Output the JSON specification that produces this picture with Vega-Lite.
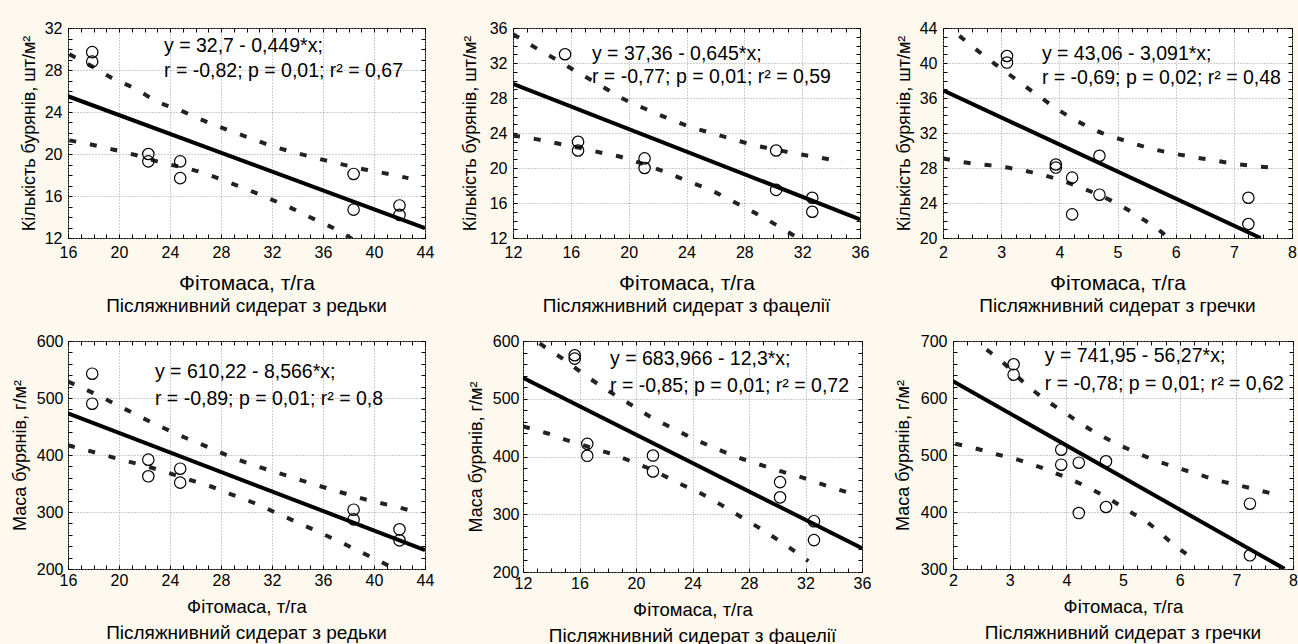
{
"$schema": "https://vega.github.io/schema/vega-lite/v6.json",
"padding": {"left": 10, "top": 19, "right": 0, "bottom": 0},
"background": "#fdf9ee",
"spacing": 15,
"config": {
 "font": "Liberation Sans",
 "view": {"fill": "white", "stroke": "black", "strokeWidth": 1},
 "axis": {"labelFont": "Liberation Sans", "labelFontSize": 16, "labelColor": "black", "titleFont": "Liberation Sans", "titleFontSize": 18, "titleFontWeight": "normal", "titleColor": "black", "domain": false, "gridColor": "#9a9a9a", "gridDash": [1, 2], "gridWidth": 1, "tickColor": "black", "tickSize": -4, "labelFlush": false, "labelOverlap": false, "labelPadding": 10},
 "axisX": {"titleFontSize": 21},
 "title": {"font": "Liberation Sans", "fontSize": 19, "fontWeight": "normal", "color": "black", "orient": "bottom", "offset": 4}
},
"datasets": {
 "p1": [
  {"s": "pt", "x": 17.9, "y": 29.7}, {"s": "pt", "x": 17.9, "y": 28.8}, {"s": "pt", "x": 22.3, "y": 20.0}, {"s": "pt", "x": 22.3, "y": 19.3}, {"s": "pt", "x": 24.8, "y": 19.3}, {"s": "pt", "x": 24.8, "y": 17.7}, {"s": "pt", "x": 38.4, "y": 18.1}, {"s": "pt", "x": 38.4, "y": 14.7}, {"s": "pt", "x": 42.0, "y": 15.1}, {"s": "pt", "x": 42.0, "y": 14.2},
  {"s": "fit", "x": 16, "y": 25.5}, {"s": "fit", "x": 44, "y": 12.94},
  {"s": "up", "x": 16.1, "y": 29.5}, {"s": "up", "x": 17.8, "y": 28.4}, {"s": "up", "x": 19.5, "y": 27.2}, {"s": "up", "x": 21.3, "y": 26.2}, {"s": "up", "x": 23.0, "y": 25.0}, {"s": "up", "x": 24.9, "y": 24.1}, {"s": "up", "x": 26.6, "y": 23.2}, {"s": "up", "x": 28.5, "y": 22.3}, {"s": "up", "x": 30.1, "y": 21.6}, {"s": "up", "x": 31.9, "y": 20.8}, {"s": "up", "x": 33.6, "y": 20.2}, {"s": "up", "x": 35.5, "y": 19.6}, {"s": "up", "x": 37.2, "y": 19.1}, {"s": "up", "x": 39.0, "y": 18.6}, {"s": "up", "x": 40.7, "y": 18.2}, {"s": "up", "x": 42.7, "y": 17.7},
  {"s": "lo", "x": 16.1, "y": 21.3}, {"s": "lo", "x": 17.8, "y": 20.9}, {"s": "lo", "x": 19.6, "y": 20.4}, {"s": "lo", "x": 21.3, "y": 19.9}, {"s": "lo", "x": 23.0, "y": 19.3}, {"s": "lo", "x": 26.6, "y": 18.2}, {"s": "lo", "x": 28.4, "y": 17.4}, {"s": "lo", "x": 30.1, "y": 16.6}, {"s": "lo", "x": 31.9, "y": 15.7}, {"s": "lo", "x": 33.6, "y": 14.8}, {"s": "lo", "x": 35.3, "y": 13.8}, {"s": "lo", "x": 37.2, "y": 12.7}, {"s": "lo", "x": 38.3, "y": 11.9},
  {"s": "eq", "t": ["y = 32,7 - 0,449*x;", "r = -0,82; p = 0,01; r² = 0,67"]}
 ],
 "p2": [
  {"s": "pt", "x": 15.6, "y": 33.0}, {"s": "pt", "x": 16.5, "y": 23.0}, {"s": "pt", "x": 16.5, "y": 22.0}, {"s": "pt", "x": 21.1, "y": 21.1}, {"s": "pt", "x": 21.1, "y": 20.0}, {"s": "pt", "x": 30.2, "y": 22.0}, {"s": "pt", "x": 30.2, "y": 17.5}, {"s": "pt", "x": 32.7, "y": 16.6}, {"s": "pt", "x": 32.7, "y": 15.0},
  {"s": "fit", "x": 12, "y": 29.62}, {"s": "fit", "x": 36, "y": 14.14},
  {"s": "up", "x": 12.0, "y": 35.3}, {"s": "up", "x": 13.6, "y": 33.7}, {"s": "up", "x": 15.1, "y": 32.3}, {"s": "up", "x": 16.6, "y": 30.8}, {"s": "up", "x": 18.1, "y": 29.4}, {"s": "up", "x": 19.5, "y": 28.0}, {"s": "up", "x": 21.1, "y": 26.8}, {"s": "up", "x": 22.6, "y": 25.75}, {"s": "up", "x": 24.1, "y": 24.8}, {"s": "up", "x": 25.7, "y": 24.0}, {"s": "up", "x": 27.2, "y": 23.3}, {"s": "up", "x": 28.7, "y": 22.6}, {"s": "up", "x": 30.2, "y": 22.1}, {"s": "up", "x": 31.7, "y": 21.6}, {"s": "up", "x": 33.2, "y": 21.2}, {"s": "up", "x": 34.8, "y": 20.7},
  {"s": "lo", "x": 12.0, "y": 23.7}, {"s": "lo", "x": 13.6, "y": 23.3}, {"s": "lo", "x": 15.1, "y": 22.8}, {"s": "lo", "x": 16.6, "y": 22.3}, {"s": "lo", "x": 18.1, "y": 21.75}, {"s": "lo", "x": 19.6, "y": 21.2}, {"s": "lo", "x": 21.1, "y": 20.4}, {"s": "lo", "x": 22.6, "y": 19.5}, {"s": "lo", "x": 24.1, "y": 18.5}, {"s": "lo", "x": 25.7, "y": 17.45}, {"s": "lo", "x": 27.2, "y": 16.2}, {"s": "lo", "x": 28.7, "y": 14.9}, {"s": "lo", "x": 30.2, "y": 13.5}, {"s": "lo", "x": 31.6, "y": 12.1}, {"s": "lo", "x": 32.0, "y": 11.7},
  {"s": "eq", "t": ["y = 37,36 - 0,645*x;", "r = -0,77; p = 0,01; r² = 0,59"]}
 ],
 "p3": [
  {"s": "pt", "x": 3.1, "y": 40.8}, {"s": "pt", "x": 3.1, "y": 40.05}, {"s": "pt", "x": 3.94, "y": 28.4}, {"s": "pt", "x": 3.94, "y": 28.05}, {"s": "pt", "x": 4.22, "y": 26.9}, {"s": "pt", "x": 4.22, "y": 22.7}, {"s": "pt", "x": 4.69, "y": 29.4}, {"s": "pt", "x": 4.69, "y": 24.95}, {"s": "pt", "x": 7.25, "y": 24.6}, {"s": "pt", "x": 7.25, "y": 21.6},
  {"s": "fit", "x": 2, "y": 36.88}, {"s": "fit", "x": 7.46, "y": 20.0},
  {"s": "up", "x": 2.0, "y": 44.6}, {"s": "up", "x": 2.19, "y": 43.6}, {"s": "up", "x": 2.53, "y": 41.75}, {"s": "up", "x": 2.9, "y": 39.85}, {"s": "up", "x": 3.28, "y": 38.0}, {"s": "up", "x": 3.65, "y": 36.2}, {"s": "up", "x": 4.02, "y": 34.5}, {"s": "up", "x": 4.38, "y": 33.1}, {"s": "up", "x": 4.77, "y": 31.9}, {"s": "up", "x": 5.14, "y": 31.1}, {"s": "up", "x": 5.53, "y": 30.3}, {"s": "up", "x": 5.89, "y": 29.75}, {"s": "up", "x": 6.26, "y": 29.3}, {"s": "up", "x": 6.63, "y": 28.9}, {"s": "up", "x": 7.0, "y": 28.5}, {"s": "up", "x": 7.38, "y": 28.2}, {"s": "up", "x": 7.75, "y": 28.0},
  {"s": "lo", "x": 2.0, "y": 29.1}, {"s": "lo", "x": 2.42, "y": 28.6}, {"s": "lo", "x": 2.82, "y": 28.3}, {"s": "lo", "x": 3.19, "y": 27.95}, {"s": "lo", "x": 3.53, "y": 27.5}, {"s": "lo", "x": 3.93, "y": 26.8}, {"s": "lo", "x": 4.28, "y": 26.0}, {"s": "lo", "x": 4.65, "y": 25.0}, {"s": "lo", "x": 5.03, "y": 23.8}, {"s": "lo", "x": 5.4, "y": 22.3}, {"s": "lo", "x": 5.77, "y": 20.6}, {"s": "lo", "x": 5.9, "y": 19.8},
  {"s": "eq", "t": ["y = 43,06 - 3,091*x;", "r = -0,69; p = 0,02; r² = 0,48"]}
 ],
 "p4": [
  {"s": "pt", "x": 17.9, "y": 542.6}, {"s": "pt", "x": 17.9, "y": 490}, {"s": "pt", "x": 22.3, "y": 391.8}, {"s": "pt", "x": 22.3, "y": 362.6}, {"s": "pt", "x": 24.8, "y": 376}, {"s": "pt", "x": 24.8, "y": 351.5}, {"s": "pt", "x": 38.4, "y": 304}, {"s": "pt", "x": 38.4, "y": 287}, {"s": "pt", "x": 42.0, "y": 269.6}, {"s": "pt", "x": 42.0, "y": 250.3},
  {"s": "fit", "x": 16, "y": 473.2}, {"s": "fit", "x": 44, "y": 233.3},
  {"s": "up", "x": 16.0, "y": 529}, {"s": "up", "x": 18.2, "y": 506.4}, {"s": "up", "x": 19.8, "y": 488.3}, {"s": "up", "x": 21.7, "y": 466.7}, {"s": "up", "x": 23.5, "y": 447.4}, {"s": "up", "x": 25.25, "y": 429.8}, {"s": "up", "x": 27.1, "y": 412.8}, {"s": "up", "x": 28.8, "y": 396.5}, {"s": "up", "x": 30.6, "y": 381.9}, {"s": "up", "x": 32.5, "y": 368.4}, {"s": "up", "x": 34.3, "y": 355.6}, {"s": "up", "x": 36.0, "y": 343.9}, {"s": "up", "x": 37.8, "y": 332}, {"s": "up", "x": 39.6, "y": 320.5}, {"s": "up", "x": 41.5, "y": 310.5}, {"s": "up", "x": 43.3, "y": 300},
  {"s": "lo", "x": 16.0, "y": 417}, {"s": "lo", "x": 18.2, "y": 404}, {"s": "lo", "x": 19.9, "y": 393.5}, {"s": "lo", "x": 21.7, "y": 383}, {"s": "lo", "x": 23.5, "y": 371.4}, {"s": "lo", "x": 25.25, "y": 358.4}, {"s": "lo", "x": 27.1, "y": 345.6}, {"s": "lo", "x": 28.8, "y": 331}, {"s": "lo", "x": 30.6, "y": 315.8}, {"s": "lo", "x": 32.3, "y": 298.8}, {"s": "lo", "x": 34.1, "y": 280.7}, {"s": "lo", "x": 36.0, "y": 261.4}, {"s": "lo", "x": 37.8, "y": 242.6}, {"s": "lo", "x": 39.6, "y": 222.8}, {"s": "lo", "x": 41.3, "y": 203.5}, {"s": "lo", "x": 41.6, "y": 199},
  {"s": "eq", "t": ["y = 610,22 - 8,566*x;", "r = -0,89; p = 0,01; r² = 0,8"]}
 ],
 "p5": [
  {"s": "pt", "x": 15.66, "y": 575.3}, {"s": "pt", "x": 15.66, "y": 569.5}, {"s": "pt", "x": 16.55, "y": 421.9}, {"s": "pt", "x": 16.55, "y": 401.2}, {"s": "pt", "x": 21.2, "y": 401.7}, {"s": "pt", "x": 21.2, "y": 374.1}, {"s": "pt", "x": 30.2, "y": 355.7}, {"s": "pt", "x": 30.2, "y": 329.3}, {"s": "pt", "x": 32.6, "y": 288}, {"s": "pt", "x": 32.6, "y": 255.2},
  {"s": "fit", "x": 12, "y": 536.4}, {"s": "fit", "x": 36, "y": 241.2},
  {"s": "up", "x": 12.0, "y": 618}, {"s": "up", "x": 13.2, "y": 595.3}, {"s": "up", "x": 14.8, "y": 569.5}, {"s": "up", "x": 16.4, "y": 540.8}, {"s": "up", "x": 17.95, "y": 515}, {"s": "up", "x": 19.5, "y": 491.9}, {"s": "up", "x": 21.0, "y": 469}, {"s": "up", "x": 22.5, "y": 450}, {"s": "up", "x": 24.1, "y": 430.5}, {"s": "up", "x": 25.7, "y": 413.3}, {"s": "up", "x": 27.2, "y": 398.8}, {"s": "up", "x": 28.8, "y": 385.7}, {"s": "up", "x": 30.3, "y": 374.1}, {"s": "up", "x": 31.9, "y": 362.6}, {"s": "up", "x": 33.4, "y": 350}, {"s": "up", "x": 34.9, "y": 338.4},
  {"s": "lo", "x": 12.0, "y": 452}, {"s": "lo", "x": 13.7, "y": 440.2}, {"s": "lo", "x": 15.2, "y": 427.6}, {"s": "lo", "x": 16.8, "y": 415.5}, {"s": "lo", "x": 18.3, "y": 404}, {"s": "lo", "x": 19.8, "y": 390.2}, {"s": "lo", "x": 21.4, "y": 374.1}, {"s": "lo", "x": 22.9, "y": 355.2}, {"s": "lo", "x": 24.4, "y": 338.4}, {"s": "lo", "x": 26.0, "y": 316.7}, {"s": "lo", "x": 27.55, "y": 293.6}, {"s": "lo", "x": 29.1, "y": 270.7}, {"s": "lo", "x": 30.7, "y": 244.8}, {"s": "lo", "x": 32.2, "y": 219},
  {"s": "eq", "t": ["y = 683,966 - 12,3*x;", "r = -0,85; p = 0,01; r² = 0,72"]}
 ],
 "p6": [
  {"s": "pt", "x": 3.07, "y": 659.1}, {"s": "pt", "x": 3.07, "y": 640.9}, {"s": "pt", "x": 3.91, "y": 509.3}, {"s": "pt", "x": 3.91, "y": 483}, {"s": "pt", "x": 4.22, "y": 486.5}, {"s": "pt", "x": 4.22, "y": 398.2}, {"s": "pt", "x": 4.70, "y": 489}, {"s": "pt", "x": 4.70, "y": 408.8}, {"s": "pt", "x": 7.24, "y": 414.6}, {"s": "pt", "x": 7.24, "y": 324},
  {"s": "fit", "x": 2, "y": 629.4}, {"s": "fit", "x": 7.85, "y": 300.3},
  {"s": "up", "x": 2.04, "y": 734}, {"s": "up", "x": 2.48, "y": 693.6}, {"s": "up", "x": 2.86, "y": 664.4}, {"s": "up", "x": 3.24, "y": 628}, {"s": "up", "x": 3.59, "y": 600}, {"s": "up", "x": 4.0, "y": 572.5}, {"s": "up", "x": 4.38, "y": 547.4}, {"s": "up", "x": 4.75, "y": 526.8}, {"s": "up", "x": 5.14, "y": 508.2}, {"s": "up", "x": 5.52, "y": 492.5}, {"s": "up", "x": 5.91, "y": 479}, {"s": "up", "x": 6.29, "y": 467.3}, {"s": "up", "x": 6.67, "y": 455.6}, {"s": "up", "x": 7.05, "y": 446.8}, {"s": "up", "x": 7.45, "y": 436.8}, {"s": "up", "x": 7.82, "y": 428},
  {"s": "lo", "x": 2.04, "y": 519.8}, {"s": "lo", "x": 2.42, "y": 511}, {"s": "lo", "x": 2.8, "y": 500.5}, {"s": "lo", "x": 3.18, "y": 490.7}, {"s": "lo", "x": 3.56, "y": 477.7}, {"s": "lo", "x": 3.93, "y": 463.2}, {"s": "lo", "x": 4.31, "y": 446.8}, {"s": "lo", "x": 4.70, "y": 426.3}, {"s": "lo", "x": 5.08, "y": 403}, {"s": "lo", "x": 5.46, "y": 379.5}, {"s": "lo", "x": 5.84, "y": 347.4}, {"s": "lo", "x": 6.23, "y": 318},
  {"s": "eq", "t": ["y = 741,95 - 56,27*x;", "r = -0,78; p = 0,01; r² = 0,62"]}
 ]
},
"vconcat": [
 {"spacing": 25, "hconcat": [
  {"width": 357, "height": 210, "data": {"name": "p1"},
   "title": {"text": "Післяжнивний сидерат з редьки"},
   "resolve": {"axis": {"x": "independent", "y": "independent"}},
   "layer": [
    {"transform": [{"filter": "datum.s === 'up' || datum.s === 'lo'"}],
     "mark": {"type": "line", "clip": true, "color": "#222222", "strokeWidth": 4, "strokeDash": [7, 14], "interpolate": "monotone"},
     "encoding": {
      "x": {"field": "x", "type": "quantitative", "scale": {"domain": [16, 44], "nice": false, "zero": false},
            "axis": {"title": "Фітомаса, т/га", "titlePadding": 12, "values": [16,17,18,19,20,21,22,23,24,25,26,27,28,29,30,31,32,33,34,35,36,37,38,39,40,41,42,43,44], "labelExpr": "datum.value % 4 === 0 ? datum.label : ''", "gridOpacity": {"condition": {"test": "datum.value % 4 === 0", "value": 1}, "value": 0}}},
      "y": {"field": "y", "type": "quantitative", "scale": {"domain": [12, 32], "nice": false, "zero": false},
            "axis": {"title": "Кількість бурянів, шт/м²", "titlePadding": 6, "values": [12,13,14,15,16,17,18,19,20,21,22,23,24,25,26,27,28,29,30,31,32], "labelExpr": "datum.value % 4 === 0 ? datum.label : ''", "gridOpacity": {"condition": {"test": "datum.value % 4 === 0", "value": 1}, "value": 0}}},
      "detail": {"field": "s"}}},
    {"transform": [{"filter": "datum.s === 'fit'"}],
     "mark": {"type": "line", "clip": true, "color": "black", "strokeWidth": 4},
     "encoding": {
      "x": {"field": "x", "type": "quantitative", "scale": {"domain": [16, 44], "nice": false, "zero": false}, "axis": {"orient": "top", "labels": false, "grid": false, "title": null, "values": [16,17,18,19,20,21,22,23,24,25,26,27,28,29,30,31,32,33,34,35,36,37,38,39,40,41,42,43,44]}},
      "y": {"field": "y", "type": "quantitative", "scale": {"domain": [12, 32], "nice": false, "zero": false}, "axis": {"orient": "right", "labels": false, "grid": false, "title": null, "values": [12,13,14,15,16,17,18,19,20,21,22,23,24,25,26,27,28,29,30,31,32]}}}},
    {"transform": [{"filter": "datum.s === 'pt'"}],
     "mark": {"type": "point", "shape": "circle", "filled": false, "color": "black", "size": 130, "strokeWidth": 1.2, "opacity": 1},
     "encoding": {"x": {"field": "x", "type": "quantitative", "axis": null}, "y": {"field": "y", "type": "quantitative", "axis": null}}},
    {"transform": [{"filter": "datum.s === 'eq'"}],
     "mark": {"type": "text", "align": "left", "baseline": "middle", "fontSize": 19.5, "lineHeight": 25, "color": "black"},
     "encoding": {"x": {"datum": 23.53, "type": "quantitative", "axis": null}, "y": {"datum": 30.29, "type": "quantitative", "axis": null}, "text": {"field": "t", "type": "nominal"}}}
   ]},
  {"spacing": 24, "hconcat": [
  {"width": 347, "height": 210, "data": {"name": "p2"},
   "title": {"text": "Післяжнивний сидерат з фацелії"},
   "resolve": {"axis": {"x": "independent", "y": "independent"}},
   "layer": [
    {"transform": [{"filter": "datum.s === 'up' || datum.s === 'lo'"}],
     "mark": {"type": "line", "clip": true, "color": "#222222", "strokeWidth": 4, "strokeDash": [7, 14], "interpolate": "monotone"},
     "encoding": {
      "x": {"field": "x", "type": "quantitative", "scale": {"domain": [12, 36], "nice": false, "zero": false},
            "axis": {"title": "Фітомаса, т/га", "titlePadding": 12, "values": [12,13,14,15,16,17,18,19,20,21,22,23,24,25,26,27,28,29,30,31,32,33,34,35,36], "labelExpr": "datum.value % 4 === 0 ? datum.label : ''", "gridOpacity": {"condition": {"test": "datum.value % 4 === 0", "value": 1}, "value": 0}}},
      "y": {"field": "y", "type": "quantitative", "scale": {"domain": [12, 36], "nice": false, "zero": false},
            "axis": {"title": "Кількість бурянів, шт/м²", "titlePadding": 10, "values": [12,13,14,15,16,17,18,19,20,21,22,23,24,25,26,27,28,29,30,31,32,33,34,35,36], "labelExpr": "datum.value % 4 === 0 ? datum.label : ''", "gridOpacity": {"condition": {"test": "datum.value % 4 === 0", "value": 1}, "value": 0}}},
      "detail": {"field": "s"}}},
    {"transform": [{"filter": "datum.s === 'fit'"}],
     "mark": {"type": "line", "clip": true, "color": "black", "strokeWidth": 4},
     "encoding": {
      "x": {"field": "x", "type": "quantitative", "scale": {"domain": [12, 36], "nice": false, "zero": false}, "axis": {"orient": "top", "labels": false, "grid": false, "title": null, "values": [12,13,14,15,16,17,18,19,20,21,22,23,24,25,26,27,28,29,30,31,32,33,34,35,36]}},
      "y": {"field": "y", "type": "quantitative", "scale": {"domain": [12, 36], "nice": false, "zero": false}, "axis": {"orient": "right", "labels": false, "grid": false, "title": null, "values": [12,13,14,15,16,17,18,19,20,21,22,23,24,25,26,27,28,29,30,31,32,33,34,35,36]}}}},
    {"transform": [{"filter": "datum.s === 'pt'"}],
     "mark": {"type": "point", "shape": "circle", "filled": false, "color": "black", "size": 130, "strokeWidth": 1.2, "opacity": 1},
     "encoding": {"x": {"field": "x", "type": "quantitative", "axis": null}, "y": {"field": "y", "type": "quantitative", "axis": null}}},
    {"transform": [{"filter": "datum.s === 'eq'"}],
     "mark": {"type": "text", "align": "left", "baseline": "middle", "fontSize": 19.5, "lineHeight": 23, "color": "black"},
     "encoding": {"x": {"datum": 17.46, "type": "quantitative", "axis": null}, "y": {"datum": 33.0, "type": "quantitative", "axis": null}, "text": {"field": "t", "type": "nominal"}}}
   ]},
  {"width": 349, "height": 210, "data": {"name": "p3"},
   "title": {"text": "Післяжнивний сидерат з гречки"},
   "resolve": {"axis": {"x": "independent", "y": "independent"}},
   "layer": [
    {"transform": [{"filter": "datum.s === 'up' || datum.s === 'lo'"}],
     "mark": {"type": "line", "clip": true, "color": "#222222", "strokeWidth": 4, "strokeDash": [7, 14], "interpolate": "monotone"},
     "encoding": {
      "x": {"field": "x", "type": "quantitative", "scale": {"domain": [2, 8], "nice": false, "zero": false},
            "axis": {"title": "Фітомаса, т/га", "titlePadding": 12, "values": [2,2.25,2.5,2.75,3,3.25,3.5,3.75,4,4.25,4.5,4.75,5,5.25,5.5,5.75,6,6.25,6.5,6.75,7,7.25,7.5,7.75,8], "labelExpr": "datum.value % 1 === 0 ? format(datum.value, 'd') : ''", "gridOpacity": {"condition": {"test": "datum.value % 1 === 0", "value": 1}, "value": 0}}},
      "y": {"field": "y", "type": "quantitative", "scale": {"domain": [20, 44], "nice": false, "zero": false},
            "axis": {"title": "Кількість бурянів, шт/м²", "titlePadding": 6, "values": [20,21,22,23,24,25,26,27,28,29,30,31,32,33,34,35,36,37,38,39,40,41,42,43,44], "labelExpr": "datum.value % 4 === 0 ? datum.label : ''", "gridOpacity": {"condition": {"test": "datum.value % 4 === 0", "value": 1}, "value": 0}}},
      "detail": {"field": "s"}}},
    {"transform": [{"filter": "datum.s === 'fit'"}],
     "mark": {"type": "line", "clip": true, "color": "black", "strokeWidth": 4},
     "encoding": {
      "x": {"field": "x", "type": "quantitative", "scale": {"domain": [2, 8], "nice": false, "zero": false}, "axis": {"orient": "top", "labels": false, "grid": false, "title": null, "values": [2,2.25,2.5,2.75,3,3.25,3.5,3.75,4,4.25,4.5,4.75,5,5.25,5.5,5.75,6,6.25,6.5,6.75,7,7.25,7.5,7.75,8]}},
      "y": {"field": "y", "type": "quantitative", "scale": {"domain": [20, 44], "nice": false, "zero": false}, "axis": {"orient": "right", "labels": false, "grid": false, "title": null, "values": [20,21,22,23,24,25,26,27,28,29,30,31,32,33,34,35,36,37,38,39,40,41,42,43,44]}}}},
    {"transform": [{"filter": "datum.s === 'pt'"}],
     "mark": {"type": "point", "shape": "circle", "filled": false, "color": "black", "size": 130, "strokeWidth": 1.2, "opacity": 1},
     "encoding": {"x": {"field": "x", "type": "quantitative", "axis": null}, "y": {"field": "y", "type": "quantitative", "axis": null}}},
    {"transform": [{"filter": "datum.s === 'eq'"}],
     "mark": {"type": "text", "align": "left", "baseline": "middle", "fontSize": 19.5, "lineHeight": 24, "color": "black"},
     "encoding": {"x": {"datum": 3.70, "type": "quantitative", "axis": null}, "y": {"datum": 40.99, "type": "quantitative", "axis": null}, "text": {"field": "t", "type": "nominal"}}}
   ]}
  ]}
 ]},
 {"spacing": 31, "hconcat": [
  {"width": 357, "height": 228, "data": {"name": "p4"},
   "title": {"text": "Післяжнивний сидерат з редьки", "offset": 8},
   "resolve": {"axis": {"x": "independent", "y": "independent"}},
   "layer": [
    {"transform": [{"filter": "datum.s === 'up' || datum.s === 'lo'"}],
     "mark": {"type": "line", "clip": true, "color": "#222222", "strokeWidth": 4, "strokeDash": [7, 14], "interpolate": "monotone"},
     "encoding": {
      "x": {"field": "x", "type": "quantitative", "scale": {"domain": [16, 44], "nice": false, "zero": false},
            "axis": {"title": "Фітомаса, т/га", "titleFontSize": 18.5, "labelPadding": 7, "titlePadding": 9, "values": [16,17,18,19,20,21,22,23,24,25,26,27,28,29,30,31,32,33,34,35,36,37,38,39,40,41,42,43,44], "labelExpr": "datum.value % 4 === 0 ? datum.label : ''", "gridOpacity": {"condition": {"test": "datum.value % 4 === 0", "value": 1}, "value": 0}}},
      "y": {"field": "y", "type": "quantitative", "scale": {"domain": [200, 600], "nice": false, "zero": false},
            "axis": {"title": "Маса бурянів, г/м²", "labelPadding": 9, "titlePadding": 7, "values": [200,220,240,260,280,300,320,340,360,380,400,420,440,460,480,500,520,540,560,580,600], "labelExpr": "datum.value % 100 === 0 ? datum.label : ''", "gridOpacity": {"condition": {"test": "datum.value % 100 === 0", "value": 1}, "value": 0}}},
      "detail": {"field": "s"}}},
    {"transform": [{"filter": "datum.s === 'fit'"}],
     "mark": {"type": "line", "clip": true, "color": "black", "strokeWidth": 4},
     "encoding": {
      "x": {"field": "x", "type": "quantitative", "scale": {"domain": [16, 44], "nice": false, "zero": false}, "axis": {"orient": "top", "labels": false, "grid": false, "title": null, "values": [16,17,18,19,20,21,22,23,24,25,26,27,28,29,30,31,32,33,34,35,36,37,38,39,40,41,42,43,44]}},
      "y": {"field": "y", "type": "quantitative", "scale": {"domain": [200, 600], "nice": false, "zero": false}, "axis": {"orient": "right", "labels": false, "grid": false, "title": null, "values": [200,220,240,260,280,300,320,340,360,380,400,420,440,460,480,500,520,540,560,580,600]}}}},
    {"transform": [{"filter": "datum.s === 'pt'"}],
     "mark": {"type": "point", "shape": "circle", "filled": false, "color": "black", "size": 130, "strokeWidth": 1.2, "opacity": 1},
     "encoding": {"x": {"field": "x", "type": "quantitative", "axis": null}, "y": {"field": "y", "type": "quantitative", "axis": null}}},
    {"transform": [{"filter": "datum.s === 'eq'"}],
     "mark": {"type": "text", "align": "left", "baseline": "middle", "fontSize": 19.5, "lineHeight": 27, "color": "black"},
     "encoding": {"x": {"datum": 22.82, "type": "quantitative", "axis": null}, "y": {"datum": 546.0, "type": "quantitative", "axis": null}, "text": {"field": "t", "type": "nominal"}}}
   ]},
  {"spacing": 21, "hconcat": [
  {"width": 339, "height": 231, "data": {"name": "p5"},
   "title": {"text": "Післяжнивний сидерат з фацелії", "offset": 8},
   "resolve": {"axis": {"x": "independent", "y": "independent"}},
   "layer": [
    {"transform": [{"filter": "datum.s === 'up' || datum.s === 'lo'"}],
     "mark": {"type": "line", "clip": true, "color": "#222222", "strokeWidth": 4, "strokeDash": [7, 14], "interpolate": "monotone"},
     "encoding": {
      "x": {"field": "x", "type": "quantitative", "scale": {"domain": [12, 36], "nice": false, "zero": false},
            "axis": {"title": "Фітомаса, т/га", "titleFontSize": 18.5, "labelPadding": 7, "titlePadding": 9, "values": [12,13,14,15,16,17,18,19,20,21,22,23,24,25,26,27,28,29,30,31,32,33,34,35,36], "labelExpr": "datum.value % 4 === 0 ? datum.label : ''", "gridOpacity": {"condition": {"test": "datum.value % 4 === 0", "value": 1}, "value": 0}}},
      "y": {"field": "y", "type": "quantitative", "scale": {"domain": [200, 600], "nice": false, "zero": false},
            "axis": {"title": "Маса бурянів, г/м²", "labelPadding": 8, "titlePadding": 7, "values": [200,220,240,260,280,300,320,340,360,380,400,420,440,460,480,500,520,540,560,580,600], "labelExpr": "datum.value % 100 === 0 ? datum.label : ''", "gridOpacity": {"condition": {"test": "datum.value % 100 === 0", "value": 1}, "value": 0}}},
      "detail": {"field": "s"}}},
    {"transform": [{"filter": "datum.s === 'fit'"}],
     "mark": {"type": "line", "clip": true, "color": "black", "strokeWidth": 4},
     "encoding": {
      "x": {"field": "x", "type": "quantitative", "scale": {"domain": [12, 36], "nice": false, "zero": false}, "axis": {"orient": "top", "labels": false, "grid": false, "title": null, "values": [12,13,14,15,16,17,18,19,20,21,22,23,24,25,26,27,28,29,30,31,32,33,34,35,36]}},
      "y": {"field": "y", "type": "quantitative", "scale": {"domain": [200, 600], "nice": false, "zero": false}, "axis": {"orient": "right", "labels": false, "grid": false, "title": null, "values": [200,220,240,260,280,300,320,340,360,380,400,420,440,460,480,500,520,540,560,580,600]}}}},
    {"transform": [{"filter": "datum.s === 'pt'"}],
     "mark": {"type": "point", "shape": "circle", "filled": false, "color": "black", "size": 130, "strokeWidth": 1.2, "opacity": 1},
     "encoding": {"x": {"field": "x", "type": "quantitative", "axis": null}, "y": {"field": "y", "type": "quantitative", "axis": null}}},
    {"transform": [{"filter": "datum.s === 'eq'"}],
     "mark": {"type": "text", "align": "left", "baseline": "middle", "fontSize": 19.5, "lineHeight": 27, "color": "black"},
     "encoding": {"x": {"datum": 18.16, "type": "quantitative", "axis": null}, "y": {"datum": 568.0, "type": "quantitative", "axis": null}, "text": {"field": "t", "type": "nominal"}}}
   ]},
  {"width": 340, "height": 228, "data": {"name": "p6"},
   "title": {"text": "Післяжнивний сидерат з гречки", "offset": 8},
   "resolve": {"axis": {"x": "independent", "y": "independent"}},
   "layer": [
    {"transform": [{"filter": "datum.s === 'up' || datum.s === 'lo'"}],
     "mark": {"type": "line", "clip": true, "color": "#222222", "strokeWidth": 4, "strokeDash": [7, 14], "interpolate": "monotone"},
     "encoding": {
      "x": {"field": "x", "type": "quantitative", "scale": {"domain": [2, 8], "nice": false, "zero": false},
            "axis": {"title": "Фітомаса, т/га", "titleFontSize": 18.5, "labelPadding": 7, "titlePadding": 9, "values": [2,2.25,2.5,2.75,3,3.25,3.5,3.75,4,4.25,4.5,4.75,5,5.25,5.5,5.75,6,6.25,6.5,6.75,7,7.25,7.5,7.75,8], "labelExpr": "datum.value % 1 === 0 ? format(datum.value, 'd') : ''", "gridOpacity": {"condition": {"test": "datum.value % 1 === 0", "value": 1}, "value": 0}}},
      "y": {"field": "y", "type": "quantitative", "scale": {"domain": [300, 700], "nice": false, "zero": false},
            "axis": {"title": "Маса бурянів, г/м²", "labelPadding": 10, "titlePadding": 8, "values": [300,320,340,360,380,400,420,440,460,480,500,520,540,560,580,600,620,640,660,680,700], "labelExpr": "datum.value % 100 === 0 ? datum.label : ''", "gridOpacity": {"condition": {"test": "datum.value % 100 === 0", "value": 1}, "value": 0}}},
      "detail": {"field": "s"}}},
    {"transform": [{"filter": "datum.s === 'fit'"}],
     "mark": {"type": "line", "clip": true, "color": "black", "strokeWidth": 4},
     "encoding": {
      "x": {"field": "x", "type": "quantitative", "scale": {"domain": [2, 8], "nice": false, "zero": false}, "axis": {"orient": "top", "labels": false, "grid": false, "title": null, "values": [2,2.25,2.5,2.75,3,3.25,3.5,3.75,4,4.25,4.5,4.75,5,5.25,5.5,5.75,6,6.25,6.5,6.75,7,7.25,7.5,7.75,8]}},
      "y": {"field": "y", "type": "quantitative", "scale": {"domain": [300, 700], "nice": false, "zero": false}, "axis": {"orient": "right", "labels": false, "grid": false, "title": null, "values": [300,320,340,360,380,400,420,440,460,480,500,520,540,560,580,600,620,640,660,680,700]}}}},
    {"transform": [{"filter": "datum.s === 'pt'"}],
     "mark": {"type": "point", "shape": "circle", "filled": false, "color": "black", "size": 130, "strokeWidth": 1.2, "opacity": 1},
     "encoding": {"x": {"field": "x", "type": "quantitative", "axis": null}, "y": {"field": "y", "type": "quantitative", "axis": null}}},
    {"transform": [{"filter": "datum.s === 'eq'"}],
     "mark": {"type": "text", "align": "left", "baseline": "middle", "fontSize": 19.5, "lineHeight": 28, "color": "black"},
     "encoding": {"x": {"datum": 3.62, "type": "quantitative", "axis": null}, "y": {"datum": 673.5, "type": "quantitative", "axis": null}, "text": {"field": "t", "type": "nominal"}}}
   ]}
  ]}
 ]}
]
}
